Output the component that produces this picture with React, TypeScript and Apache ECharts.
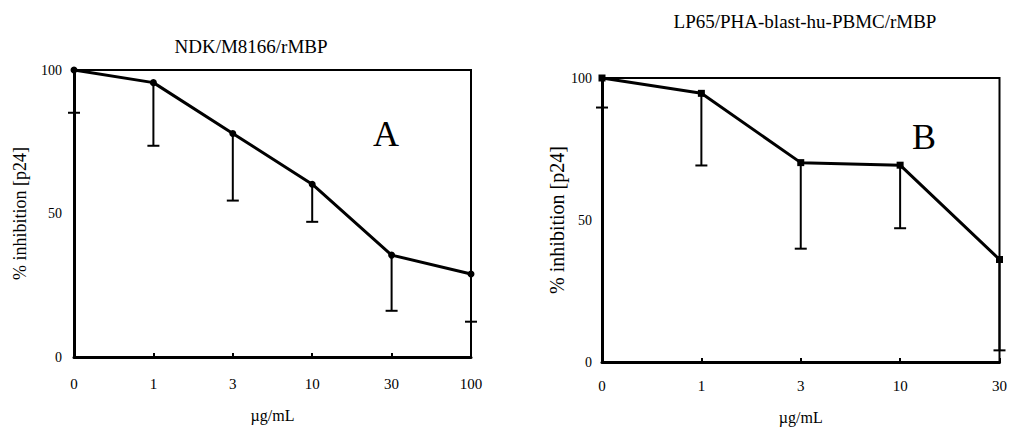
import React, { useEffect, useRef } from "react";
import * as echarts from "echarts";

const doseA = ["0", "1", "3", "10", "30", "100"];
const meanA = [100, 95.6, 77.9, 60.2, 35.5, 28.9];
const lowerA = [85.1, 73.6, 54.5, 47.1, 16.1, 12.3];

const doseB = ["0", "1", "3", "10", "30"];
const meanB = [100, 94.6, 70.2, 69.3, 36.1];
const lowerB = [89.6, 69.2, 39.9, 47.1, 4.1];

const yTicks = [0, 50, 100];

const FONT = "Liberation Serif";

function errRender(params: any, api: any) {
  const x = api.value(0);
  const hi = api.coord([x, api.value(1)]);
  const lo = api.coord([x, api.value(2)]);
  const w = 6;
  return {
    type: "group",
    children: [
      { type: "line", shape: { x1: hi[0], y1: hi[1], x2: lo[0], y2: lo[1] }, style: { stroke: "#000", lineWidth: 2 } },
      { type: "line", shape: { x1: lo[0] - w, y1: lo[1], x2: lo[0] + w, y2: lo[1] }, style: { stroke: "#000", lineWidth: 2 } },
    ],
  };
}

export default function App() {
  const ref = useRef<HTMLDivElement>(null);
  useEffect(() => {
    document.body.style.margin = "0";
    const chart = echarts.init(ref.current!, null, { renderer: "svg" });
    const mkX = (idx: number, data: string[], gap: number, margin: number) => ({
      type: "category",
      gridIndex: idx,
      data,
      boundaryGap: false,
      name: "µg/mL",
      nameLocation: "middle",
      nameGap: gap,
      nameTextStyle: { fontFamily: FONT, fontSize: 16, color: "#000" },
      axisLine: { lineStyle: { color: "#000", width: 3 } },
      axisTick: { show: true, inside: true, length: 4, alignWithLabel: true, lineStyle: { color: "#000", width: 2 } },
      axisLabel: { fontFamily: FONT, fontSize: 15, color: "#000", margin, interval: 0 },
      splitLine: { show: false },
    });
    const mkY = (idx: number, gap: number, nameSize: number, margin: number) => ({
      type: "value",
      gridIndex: idx,
      min: 0,
      max: 100,
      interval: 50,
      name: "% inhibition [p24]",
      nameLocation: "middle",
      nameGap: gap,
      nameTextStyle: { fontFamily: FONT, fontSize: nameSize, color: "#000" },
      axisLine: { show: true, lineStyle: { color: "#000", width: 3 } },
      axisTick: { show: false },
      axisLabel: {
        fontFamily: FONT,
        fontSize: 14,
        color: "#000",
        margin,
        formatter: (v: number) => (yTicks.includes(v) ? String(v) : ""),
      },
      splitLine: { show: false },
    });
    chart.setOption({
      animation: false,
      backgroundColor: "#fff",
      title: [
        { text: "NDK/M8166/rMBP", left: 246, top: 32, textAlign: "center", textStyle: { fontFamily: FONT, fontSize: 19, fontWeight: "normal", color: "#000" } },
        { text: "LP65/PHA-blast-hu-PBMC/rMBP", left: 800, top: 7, textAlign: "center", textStyle: { fontFamily: FONT, fontSize: 19, fontWeight: "normal", color: "#000" } },
      ],
      grid: [
        { left: 74, top: 70, width: 397, height: 287, show: true, borderColor: "#000", borderWidth: 2 },
        { left: 602, top: 78, width: 401, height: 286, show: true, borderColor: "#000", borderWidth: 2 },
      ],
      xAxis: [mkX(0, doseA, 50, 19), mkX(1, doseB, 47, 16)],
      yAxis: [mkY(0, 45, 18, 12), mkY(1, 34, 20, 10)],
      graphic: [
        { type: "text", left: 373, top: 116, style: { text: "A", font: `36px "${FONT}"`, fill: "#000" } },
        { type: "text", left: 912, top: 119, style: { text: "B", font: `36px "${FONT}"`, fill: "#000" } },
      ],
      series: [
        {
          type: "custom",
          xAxisIndex: 0,
          yAxisIndex: 0,
          renderItem: errRender,
          clip: false,
          data: doseA.map((_, i) => [i, meanA[i], lowerA[i]]),
          z: 1,
        },
        {
          type: "line",
          xAxisIndex: 0,
          yAxisIndex: 0,
          data: meanA,
          symbol: "circle",
          symbolSize: 7,
          clip: false,
          itemStyle: { color: "#000" },
          lineStyle: { color: "#000", width: 3 },
          z: 3,
        },
        {
          type: "custom",
          xAxisIndex: 1,
          yAxisIndex: 1,
          renderItem: errRender,
          clip: false,
          data: doseB.map((_, i) => [i, meanB[i], lowerB[i]]),
          z: 1,
        },
        {
          type: "line",
          xAxisIndex: 1,
          yAxisIndex: 1,
          data: meanB,
          symbol: "rect",
          symbolSize: 7,
          clip: false,
          itemStyle: { color: "#000" },
          lineStyle: { color: "#000", width: 3 },
          z: 3,
        },
      ],
    });
    return () => chart.dispose();
  }, []);
  return <div ref={ref} style={{ width: 1010, height: 430 }} />;
}
